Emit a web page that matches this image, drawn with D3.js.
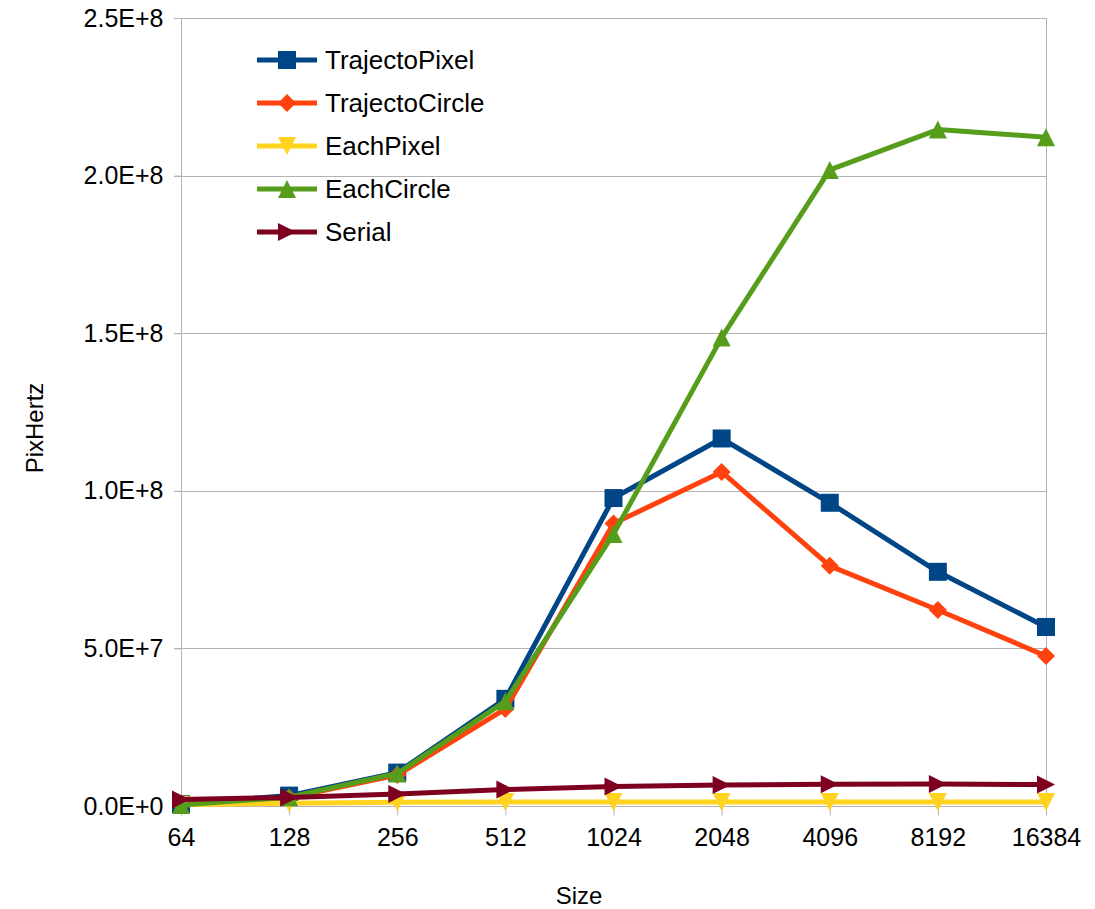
<!DOCTYPE html>
<html>
<head>
<meta charset="utf-8">
<script src="https://cdn.jsdelivr.net/npm/d3@7"></script>
<style>
  body { margin: 0; background: #fff; }
  text { font-family: "Liberation Sans", Arial, sans-serif; fill: #000; }
</style>
</head>
<body>
<script>
const sizes = ['64', '128', '256', '512', '1024', '2048', '4096', '8192', '16384']

const trajectoPixel  = [0.6e6, 3.3e6, 10.6e6, 34.0e6, 97.7e6, 116.6e6, 96.2e6, 74.3e6, 56.8e6]
const trajectoCircle = [0.5e6, 2.6e6, 9.8e6, 30.8e6, 89.6e6, 106.0e6, 76.2e6, 62.2e6, 47.6e6]
const eachPixel      = [0.4e6, 0.9e6, 1.2e6, 1.3e6, 1.3e6, 1.3e6, 1.3e6, 1.3e6, 1.3e6]
const eachCircle     = [0.3e6, 2.8e6, 10.3e6, 33.2e6, 86.3e6, 148.6e6, 201.8e6, 214.6e6, 212.2e6]
const serial         = [2.1e6, 2.7e6, 3.8e6, 5.2e6, 6.2e6, 6.7e6, 6.9e6, 7.0e6, 6.8e6]

const yTicks = [0, 5e7, 1e8, 1.5e8, 2e8, 2.5e8]

const series = [
  {name: 'TrajectoPixel', values: trajectoPixel, color: '#004586', shape: 'square'},
  {name: 'TrajectoCircle', values: trajectoCircle, color: '#ff420e', shape: 'diamond'},
  {name: 'EachPixel', values: eachPixel, color: '#ffd320', shape: 'down'},
  {name: 'EachCircle', values: eachCircle, color: '#579d1c', shape: 'up'},
  {name: 'Serial', values: serial, color: '#7e0021', shape: 'right'}
]

const w = 1095
const h = 909
const pLeft = 181, pRight = 1046, pTop = 18, pBottom = 806

const svg = d3.select('body')
              .append('svg')
              .attr('width', w)
              .attr('height', h)

const xScale = d3.scalePoint()
                 .domain(sizes)
                 .range([pLeft, pRight])

const yScale = d3.scaleLinear()
                 .domain([0, 2.5e8])
                 .range([pBottom, pTop])

const fmt = d => d3.format('.1e')(d).toUpperCase()

// grid
svg.append('g')
  .selectAll('line')
  .data(yTicks)
  .enter()
  .append('line')
  .attr('x1', pLeft - 7)
  .attr('x2', pRight)
  .attr('y1', d => Math.round(yScale(d)) + 0.5)
  .attr('y2', d => Math.round(yScale(d)) + 0.5)
  .attr('stroke', '#b3b3b3')
  .attr('stroke-width', 1)

svg.append('line')
  .attr('x1', pRight + 0.5).attr('x2', pRight + 0.5)
  .attr('y1', pTop).attr('y2', pBottom)
  .attr('stroke', '#b3b3b3')

// axes
const xAxis = d3.axisBottom(xScale).tickSize(9).tickPadding(13)
const yAxis = d3.axisLeft(yScale).tickValues(yTicks).tickFormat(fmt).tickSize(7).tickPadding(11)

const gx = svg.append('g')
  .attr('transform', 'translate(0,' + (pBottom + 0.5) + ')')
  .call(xAxis)

const gy = svg.append('g')
  .attr('transform', 'translate(' + (pLeft + 0.5) + ',0)')
  .call(yAxis)

;[gx, gy].forEach(g => {
  g.selectAll('.domain, line').attr('stroke', '#b3b3b3')
  g.selectAll('text').style('font-size', '25px').attr('fill', '#000')
})
gx.select('.domain').remove()
gy.select('.domain').attr('d', 'M0,' + pTop + 'V' + pBottom)

// axis titles
svg.append('text')
  .attr('x', 579)
  .attr('y', 904)
  .attr('text-anchor', 'middle')
  .style('font-size', '24px')
  .text('Size')

svg.append('text')
  .attr('transform', 'translate(43,428) rotate(-90)')
  .attr('text-anchor', 'middle')
  .style('font-size', '24px')
  .text('PixHertz')

const symbolPath = (shape, s) => {
  if (shape === 'square') return `M${-s},${-s}H${s}V${s}H${-s}Z`
  if (shape === 'diamond') return `M0,${-s}L${s},0L0,${s}L${-s},0Z`
  if (shape === 'up') return `M0,${-s}L${s},${s}H${-s}Z`
  if (shape === 'down') return `M${-s},${-s}H${s}L0,${s}Z`
  if (shape === 'right') return `M${-s},${-s}L${s},0L${-s},${s}Z`
}

const line = d3.line()
  .x((d, i) => xScale(sizes[i]))
  .y(d => yScale(d))

series.forEach(s => {
  const g = svg.append('g')
  g.append('path')
    .attr('d', line(s.values))
    .attr('fill', 'none')
    .attr('stroke', s.color)
    .attr('stroke-width', 5)
    .attr('stroke-linejoin', 'round')
  g.selectAll('path.m')
    .data(s.values)
    .enter()
    .append('path')
    .attr('class', 'm')
    .attr('transform', (d, i) => `translate(${xScale(sizes[i])},${yScale(d)})`)
    .attr('d', symbolPath(s.shape, 9))
    .attr('fill', s.color)
})

// legend
const legend = svg.append('g')
  .selectAll('g')
  .data(series)
  .enter()
  .append('g')
  .attr('transform', (d, i) => `translate(257,${60 + i * 43})`)

legend.append('line')
  .attr('x1', 0).attr('x2', 60)
  .attr('stroke', d => d.color)
  .attr('stroke-width', 5)

legend.append('path')
  .attr('transform', 'translate(30,0)')
  .attr('d', d => symbolPath(d.shape, 9))
  .attr('fill', d => d.color)

legend.append('text')
  .attr('x', 68)
  .attr('dy', '0.35em')
  .style('font-size', '26px')
  .text(d => d.name)
</script>
</body>
</html>
